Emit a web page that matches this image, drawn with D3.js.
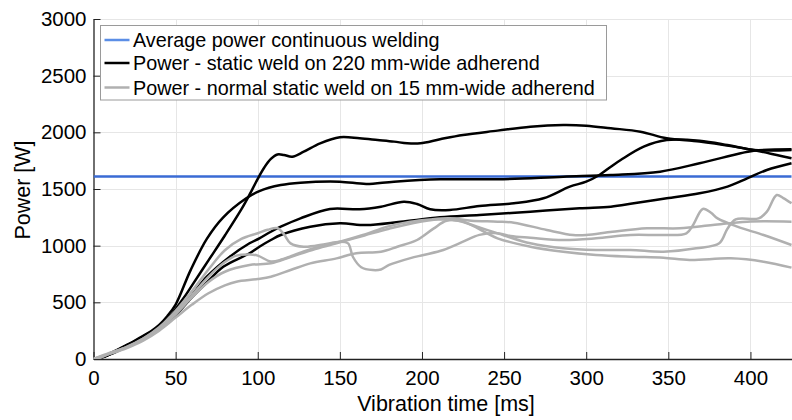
<!DOCTYPE html>
<html>
<head>
<meta charset="utf-8">
<script src="https://cdn.jsdelivr.net/npm/d3@7"></script>
<style>
  body { margin: 0; background: #fff; }
  text { font-family: "Liberation Sans", Arial, Helvetica, sans-serif; fill: #000; }
</style>
</head>
<body>
<script>
// [time ms, power W]
var avgContinuous = 1610;

var black1 = [[0,0],[5,15],[10,45],[15,80],[20,118],[25,155],[30,198],[35,238],[40,285],[45,350],[50,440],[55,540],[60,650],[70,870],[80,1090],[90,1320],[95,1450],[100,1590],[104,1690],[108,1765],[112,1805],[116,1800],[121,1785],[128,1829],[138,1903],[150,1956],[162,1947],[173,1932],[183,1918],[191,1903],[199,1903],[211,1939],[225,1977],[246,2015],[266,2050],[286,2065],[300,2059],[315,2036],[333,2006],[349,1947],[369,1918],[390,1874],[402,1844],[416,1800],[425,1771]];
var black2 = [[0,0],[5,18],[10,50],[15,85],[20,122],[25,160],[30,203],[35,245],[40,300],[45,380],[50,480],[59,780],[69,1060],[79,1250],[93,1418],[101,1482],[114,1535],[126,1556],[150,1565],[166,1544],[183,1565],[211,1586],[246,1586],[286,1609],[315,1624],[345,1653],[369,1727],[394,1815],[402,1838],[425,1850]];
var black3 = [[0,0],[5,14],[10,42],[15,76],[20,112],[25,148],[30,190],[35,232],[40,280],[50,400],[60,565],[69,726],[83,903],[95,1021],[101,1065],[108,1123],[114,1167],[126,1241],[144,1324],[162,1321],[175,1344],[189,1388],[197,1368],[205,1321],[217,1315],[235,1350],[256,1374],[274,1418],[290,1521],[300,1565],[308,1624],[315,1697],[321,1756],[335,1874],[349,1932],[369,1926],[386,1888],[402,1844],[425,1844]];
var black4 = [[0,0],[5,12],[10,40],[15,72],[20,108],[25,145],[30,186],[35,228],[40,275],[50,390],[60,545],[70,690],[79,814],[95,933],[101,991],[108,1050],[114,1094],[132,1167],[150,1197],[166,1182],[187,1211],[211,1250],[235,1271],[266,1300],[296,1330],[315,1344],[329,1374],[349,1418],[369,1462],[386,1521],[398,1594],[410,1668],[425,1727]];

var gray1 = [[0,0],[5,15],[10,50],[20,105],[30,178],[40,280],[50,425],[60,600],[70,790],[80,960],[90,1060],[100,1110],[106,1140],[112,1155],[116,1100],[120,1020],[128,990],[140,1010],[150,1035],[155,1020],[158,900],[163,810],[170,785],[175,790],[180,830],[193,890],[201,918],[213,962],[225,1035],[235,1095],[246,1110],[254,1085],[266,1070],[286,1050],[306,1065],[327,1094],[347,1094],[361,1109],[365,1180],[371,1324],[376,1290],[380,1241],[392,1168],[408,1094],[425,1006]];
var gray2 = [[0,0],[10,55],[20,105],[30,178],[40,272],[50,405],[60,565],[70,725],[80,855],[87,912],[95,922],[100,912],[108,860],[115,880],[128,950],[140,1000],[150,1035],[164,1094],[179,1168],[193,1212],[205,1232],[217,1241],[230,1220],[246,1212],[256,1203],[276,1138],[292,1094],[300,1094],[316,1123],[337,1153],[357,1153],[377,1182],[398,1212],[425,1212]];
var gray3 = [[0,0],[10,50],[20,100],[30,170],[40,265],[50,395],[60,545],[70,680],[80,770],[95,829],[108,845],[120,900],[135,970],[150,1030],[165,1090],[180,1150],[195,1200],[210,1230],[222,1220],[235,1160],[250,1090],[266,1021],[286,977],[306,962],[327,962],[347,947],[367,977],[381,1021],[386,1150],[391,1232],[405,1241],[410,1300],[416,1447],[420,1420],[425,1374]];
var gray4 = [[0,0],[10,45],[20,95],[30,160],[40,250],[50,365],[60,480],[70,580],[80,650],[87,682],[100,705],[108,726],[120,785],[132,844],[148,888],[160,933],[175,947],[185,991],[197,1050],[207,1150],[215,1220],[225,1212],[246,1065],[266,991],[286,947],[306,918],[327,903],[347,894],[363,874],[388,888],[408,859],[425,806]];

var blackRuns = [black1, black2, black3, black4];
var grayRuns = [gray1, gray2, gray3, gray4];

var xTicks = [0, 50, 100, 150, 200, 250, 300, 350, 400];
var yTicks = [0, 500, 1000, 1500, 2000, 2500, 3000];
var legendLabels = ["Average power continuous welding",
                    "Power - static weld on 220 mm-wide adherend",
                    "Power - normal static weld on 15 mm-wide adherend"];

var W = 792, H = 420;
// plot box (note: "top" is a reserved window property, so use a margin object)
var box = { left: 93.5, right: 792, top: 19, bottom: 359 };

var svg = d3.select("body").append("svg")
    .attr("width", W)
    .attr("height", H);

var x = d3.scaleLinear().domain([0, 425]).range([box.left, 791.5]);
var y = d3.scaleLinear().domain([0, 3000]).range([box.bottom, box.top]);

// grid
svg.append("g").selectAll("line").data(xTicks.slice(1))
    .enter().append("line")
    .attr("x1", d => Math.round(x(d)) + 0.5).attr("x2", d => Math.round(x(d)) + 0.5)
    .attr("y1", box.top).attr("y2", box.bottom)
    .attr("stroke", "#e6e6e6").attr("stroke-width", 1);
svg.append("g").selectAll("line").data(yTicks.slice(1))
    .enter().append("line")
    .attr("x1", box.left).attr("x2", box.right)
    .attr("y1", d => Math.round(y(d)) + 0.5).attr("y2", d => Math.round(y(d)) + 0.5)
    .attr("stroke", "#e6e6e6").attr("stroke-width", 1);

// axes, MATLAB style ticks pointing inward
var xAxis = d3.axisBottom(x).tickValues(xTicks).tickFormat(d3.format("d"))
    .tickSizeInner(-7).tickSizeOuter(0).tickPadding(11);
var gx = svg.append("g")
    .attr("transform", "translate(0," + box.bottom + ")")
    .call(xAxis);
gx.select(".domain").attr("stroke", "#222").attr("stroke-width", 1.3);
gx.selectAll(".tick line").attr("stroke", "#222");
gx.selectAll("text").attr("font-size", 20.5).attr("fill", "#000")
    .style("font-family", '"Liberation Sans", Arial, sans-serif');

var yAxis = d3.axisLeft(y).tickValues(yTicks).tickFormat(d3.format("d"))
    .tickSizeInner(-7).tickSizeOuter(0).tickPadding(7);
var gy = svg.append("g")
    .attr("transform", "translate(" + box.left + ",0)")
    .call(yAxis);
gy.select(".domain").attr("stroke", "#222").attr("stroke-width", 1.3);
gy.selectAll(".tick line").attr("stroke", "#222");
gy.selectAll("text").attr("font-size", 20.5).attr("fill", "#000")
    .style("font-family", '"Liberation Sans", Arial, sans-serif');

// axis labels
svg.append("text")
    .attr("x", 446).attr("y", 411)
    .attr("text-anchor", "middle")
    .attr("font-size", 21.5)
    .text("Vibration time [ms]");
svg.append("text")
    .attr("transform", "translate(30," + 190 + ") rotate(-90)")
    .attr("text-anchor", "middle")
    .attr("font-size", 21.5)
    .text("Power [W]");

// data lines
svg.append("clipPath").attr("id", "clip")
    .append("rect").attr("x", box.left).attr("y", box.top - 5)
    .attr("width", box.right - box.left).attr("height", box.bottom - box.top + 5);

var line = d3.line()
    .x(d => x(d[0]))
    .y(d => y(d[1]))
    .curve(d3.curveCatmullRom.alpha(0.5));

var plot = svg.append("g").attr("clip-path", "url(#clip)");

plot.append("line")
    .attr("x1", x(0)).attr("x2", x(425))
    .attr("y1", y(avgContinuous)).attr("y2", y(avgContinuous))
    .attr("stroke", "#3a6bd4").attr("stroke-width", 2.5);

plot.selectAll(".black").data(blackRuns)
    .enter().append("path")
    .attr("class", "black")
    .attr("d", line)
    .attr("fill", "none")
    .attr("stroke", "#000")
    .attr("stroke-width", 2.5)
    .attr("stroke-linejoin", "round");

plot.selectAll(".gray").data(grayRuns)
    .enter().append("path")
    .attr("class", "gray")
    .attr("d", line)
    .attr("fill", "none")
    .attr("stroke", "#b0b0b0")
    .attr("stroke-width", 2.5)
    .attr("stroke-linejoin", "round");

// legend
var legend = svg.append("g");
legend.append("rect")
    .attr("x", 100.5).attr("y", 25.5)
    .attr("width", 506).attr("height", 74.5)
    .attr("fill", "#fff")
    .attr("stroke", "#9a9a9a")
    .attr("stroke-width", 1);

var legendColors = ["#5b8ee6", "#000", "#b0b0b0"];
var legendY = [40, 63, 87.5];
legend.selectAll(".lg").data(legendLabels)
    .enter().append("g")
    .attr("transform", (d, i) => "translate(0," + legendY[i] + ")")
    .each(function (d, i) {
        var g = d3.select(this);
        g.append("line")
            .attr("x1", 104.5).attr("x2", 129.5)
            .attr("stroke", legendColors[i]).attr("stroke-width", 2.5);
        g.append("text")
            .attr("x", 133).attr("dy", "0.36em")
            .attr("font-size", 19.8)
            .text(d);
    });
</script>
</body>
</html>
